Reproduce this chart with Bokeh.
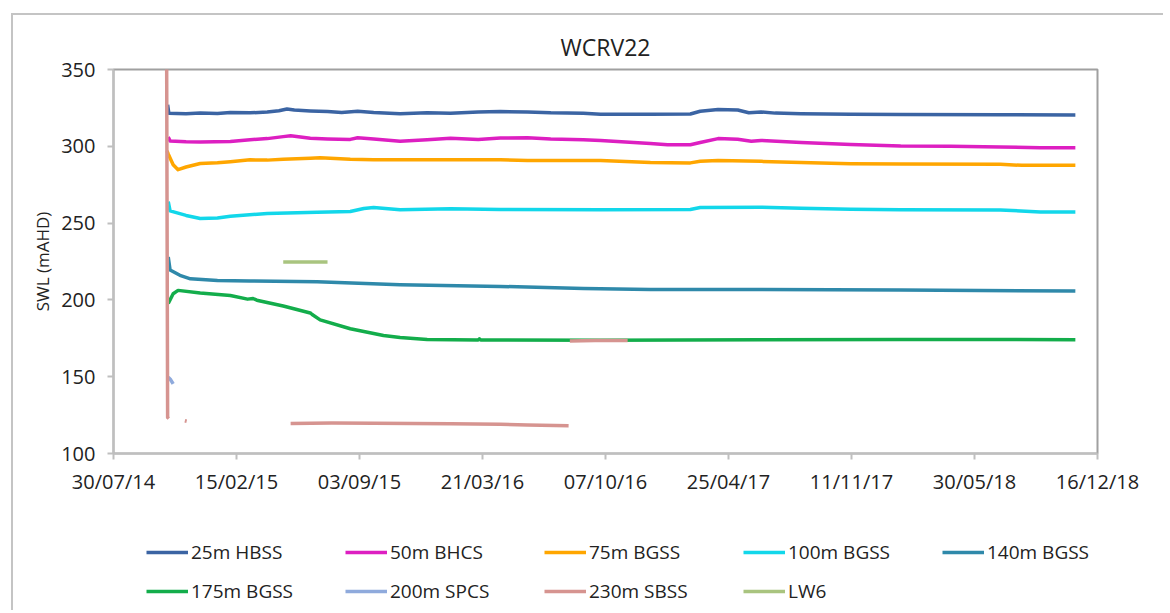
import numpy as np
import pandas as pd
from bokeh.plotting import figure
from bokeh.layouts import column
from bokeh.models import Range1d, FixedTicker, Legend, LegendItem
from bokeh.embed import file_html
from bokeh.resources import INLINE

ORIGIN = pd.Timestamp("2014-07-30")

title_text = "WCRV22"
y_label = "SWL (mAHD)"
tick_labels = ["30/07/14", "15/02/15", "03/09/15", "21/03/16", "07/10/16",
               "25/04/17", "11/11/17", "30/05/18", "16/12/18"]
y_ticks = [100, 150, 200, 250, 300, 350]

names = ["25m HBSS", "50m BHCS", "75m BGSS", "100m BGSS", "140m BGSS",
         "175m BGSS", "200m SPCS", "230m SBSS", "LW6"]
colors = ["#3b64a3", "#dd1fc1", "#ffa600", "#12d7ea", "#2f89aa",
          "#13ad4b", "#8faadc", "#d69490", "#a9c47f"]

hbss25_dates = ["2014-10-26", "2014-10-28", "2014-11-10", "2014-11-25", "2014-12-18",
                "2015-01-15", "2015-02-05", "2015-03-09", "2015-04-06", "2015-04-25",
                "2015-05-08", "2015-05-20", "2015-06-15", "2015-07-13", "2015-08-05",
                "2015-08-31", "2015-09-26", "2015-11-08", "2015-12-22", "2016-01-29",
                "2016-03-14", "2016-04-19", "2016-06-02", "2016-07-10", "2016-09-01",
                "2016-09-29", "2016-12-19", "2017-02-22", "2017-03-10", "2017-04-08",
                "2017-05-10", "2017-05-28", "2017-06-17", "2017-07-10", "2017-08-21",
                "2017-11-10", "2018-01-30", "2018-07-11", "2018-11-10"]
hbss25_vals = [327.0, 321.5, 321.3, 321.2, 321.6, 321.3, 322.0, 321.8, 322.3, 323.2,
               324.3, 323.6, 323.0, 322.6, 322.0, 322.8, 322.0, 321.2, 321.8, 321.5,
               322.3, 322.6, 322.4, 321.8, 321.5, 320.9, 320.9, 321.0, 322.8, 323.9,
               323.6, 321.8, 322.4, 321.6, 321.2, 320.9, 320.7, 320.6, 320.4]

bhcs50_dates = ["2014-10-27", "2014-10-30", "2014-11-25", "2014-12-18", "2015-02-05",
                "2015-03-09", "2015-04-06", "2015-05-02", "2015-05-14", "2015-06-15",
                "2015-07-13", "2015-08-19", "2015-08-31", "2015-09-26", "2015-11-08",
                "2015-12-22", "2016-01-29", "2016-03-14", "2016-04-19", "2016-06-02",
                "2016-07-10", "2016-09-01", "2016-09-29", "2016-12-19", "2017-01-16",
                "2017-02-22", "2017-03-10", "2017-04-08", "2017-05-10", "2017-06-01",
                "2017-06-17", "2017-08-21", "2017-11-10", "2018-01-30", "2018-04-21",
                "2018-07-11", "2018-09-14", "2018-11-10"]
bhcs50_vals = [306.0, 303.4, 302.9, 302.8, 303.2, 304.3, 305.0, 306.3, 306.8, 305.2,
               304.8, 304.5, 305.6, 304.8, 303.3, 304.2, 305.3, 304.5, 305.4, 305.6,
               304.8, 304.2, 303.8, 301.8, 301.0, 301.0, 302.5, 305.0, 304.6, 303.3,
               303.8, 302.4, 301.2, 300.2, 300.0, 299.6, 299.0, 299.0]

bgss75_dates = ["2014-10-25", "2014-10-27", "2014-11-04", "2014-11-12", "2014-11-25",
                "2014-12-18", "2015-01-15", "2015-02-05", "2015-03-09", "2015-04-06",
                "2015-05-02", "2015-06-15", "2015-07-01", "2015-08-19", "2015-09-26",
                "2015-11-08", "2016-01-29", "2016-04-19", "2016-06-02", "2016-09-29",
                "2016-12-19", "2017-02-22", "2017-03-10", "2017-04-08", "2017-06-17",
                "2017-08-21", "2017-11-10", "2018-01-30", "2018-07-11", "2018-08-15",
                "2018-11-10"]
bgss75_vals = [297.0, 295.0, 288.0, 284.8, 286.5, 288.8, 289.3, 290.0, 291.2, 291.0,
               291.6, 292.3, 292.6, 291.5, 291.3, 291.2, 291.2, 291.2, 290.8, 290.8,
               289.5, 289.2, 290.2, 290.8, 290.2, 289.4, 288.6, 288.4, 288.3, 287.6,
               287.6]

bgss100_dates = ["2014-10-27", "2014-10-30", "2014-11-25", "2014-12-18", "2015-01-15",
                 "2015-02-05", "2015-04-06", "2015-06-26", "2015-08-19", "2015-09-10",
                 "2015-09-26", "2015-11-08", "2016-01-29", "2016-04-19", "2016-09-29",
                 "2017-02-22", "2017-03-10", "2017-06-17", "2017-08-21", "2017-11-10",
                 "2018-01-30", "2018-07-11", "2018-09-14", "2018-11-10"]
bgss100_vals = [264.0, 258.0, 255.0, 253.0, 253.3, 254.5, 256.3, 257.1, 257.5, 259.5,
                260.2, 258.7, 259.3, 258.8, 258.7, 258.9, 260.2, 260.4, 259.6, 259.0,
                258.7, 258.5, 257.3, 257.3]

bgss140_dates = ["2014-10-27", "2014-10-30", "2014-11-15", "2014-12-02", "2015-01-15",
                 "2015-03-09", "2015-06-26", "2015-11-08", "2016-04-19", "2016-09-01",
                 "2016-12-19", "2017-06-17", "2018-01-30", "2018-11-10"]
bgss140_vals = [228.0, 219.5, 216.0, 213.7, 212.6, 212.3, 211.8, 209.8, 208.8, 207.4,
                206.8, 206.8, 206.4, 205.8]

bgss175_dates = ["2014-10-27", "2014-11-04", "2014-11-12", "2014-12-18", "2015-02-05",
                 "2015-03-05", "2015-03-14", "2015-03-20", "2015-05-02", "2015-06-15",
                 "2015-06-18", "2015-07-01", "2015-08-19", "2015-10-12", "2015-11-08",
                 "2015-12-22", "2016-03-14", "2016-03-16", "2016-03-18", "2016-09-29",
                 "2017-06-17", "2018-01-30", "2018-04-21", "2018-11-10"]
bgss175_vals = [197.6, 204.0, 206.2, 204.5, 202.9, 200.5, 200.9, 199.8, 196.0, 191.5,
                190.5, 187.0, 181.2, 176.8, 175.5, 174.2, 173.9, 174.6, 173.9, 173.8,
                174.0, 174.2, 174.3, 174.0]

spcs200_dates = ["2014-10-27", "2014-10-31", "2014-11-04"]
spcs200_vals = [149.7, 148.0, 145.3]

sbss230_dates = ["2014-10-24", "2014-10-26", "2014-10-28", None,
                 "2014-11-23", "2014-11-26", None,
                 "2015-05-14", "2015-07-20", "2015-09-26", "2016-01-29", "2016-04-19",
                 "2016-06-02", "2016-08-08", None,
                 "2016-08-10", "2016-09-20", "2016-11-12"]
sbss230_vals = [420.0, 123.5, 122.8, None,
                121.3, 121.0, None,
                119.6, 119.9, 119.7, 119.4, 119.1, 118.6, 118.1, None,
                173.3, 173.5, 173.5]

lw6_dates = ["2015-05-02", "2015-07-13"]
lw6_vals = [224.6, 224.6]

series_dates = [hbss25_dates, bhcs50_dates, bgss75_dates, bgss100_dates, bgss140_dates,
                bgss175_dates, spcs200_dates, sbss230_dates, lw6_dates]
series_vals = [hbss25_vals, bhcs50_vals, bgss75_vals, bgss100_vals, bgss140_vals,
               bgss175_vals, spcs200_vals, sbss230_vals, lw6_vals]


def to_days(dates):
    return [np.nan if d is None else float((pd.Timestamp(d) - ORIGIN).days) for d in dates]


def to_vals(vals):
    return [np.nan if v is None else v for v in vals]


tick_pos = [float((pd.to_datetime(t, format="%d/%m/%y") - ORIGIN).days) for t in tick_labels]

FONT = "Open Sans"
TXT = "#222222"
LW = 3.5

# ---- main chart ----
p = figure(width=1150, height=483, output_backend="svg", toolbar_location=None,
           x_range=Range1d(tick_pos[0], tick_pos[-1]), y_range=Range1d(y_ticks[0], y_ticks[-1]),
           min_border_left=100, min_border_right=66, min_border_top=54, min_border_bottom=45)

p.title.text = title_text
p.title.align = "center"
p.title.offset = -7
p.title.text_font = FONT
p.title.text_font_size = "23px"
p.title.text_font_style = "normal"
p.title.text_color = TXT
p.title.standoff = 13

p.xgrid.visible = False
p.ygrid.visible = False
p.outline_line_color = "#a0a0a0"
p.outline_line_width = 2

p.xaxis.ticker = FixedTicker(ticks=tick_pos)
p.xaxis.major_label_overrides = {tp: lab for tp, lab in zip(tick_pos, tick_labels)}
p.yaxis.ticker = FixedTicker(ticks=y_ticks)
p.yaxis.axis_label = y_label

for ax in (p.xaxis[0], p.yaxis[0]):
    ax.axis_line_color = "#bfbfbf"
    ax.axis_line_width = 2
    ax.major_tick_line_color = "#bfbfbf"
    ax.major_tick_line_width = 2
    ax.major_tick_out = 6
    ax.major_tick_in = 0
    ax.minor_tick_out = 0
    ax.minor_tick_in = 0
    ax.major_label_text_font = FONT
    ax.major_label_text_font_size = "20px"
    ax.major_label_text_color = TXT
    ax.axis_label_text_font = FONT
    ax.axis_label_text_font_size = "17px"
    ax.axis_label_text_font_style = "normal"
    ax.axis_label_text_color = TXT

p.xaxis.major_label_standoff = 8
p.yaxis.major_label_standoff = 12
p.yaxis.axis_label_standoff = 4

for col, ds, vs in zip(colors, series_dates, series_vals):
    p.line(to_days(ds), to_vals(vs), line_color=col, line_width=LW, line_join="round")

# ---- legend strip (keys only; their sample lines sit outside the visible range) ----
pl = figure(width=1150, height=112, output_backend="svg", toolbar_location=None,
            x_range=Range1d(0, 1), y_range=Range1d(0, 1),
            x_axis_location=None, y_axis_location=None,
            min_border_left=0, min_border_right=0, min_border_top=0, min_border_bottom=0)
pl.xgrid.visible = False
pl.ygrid.visible = False
pl.outline_line_color = None

items = []
for name, col in zip(names, colors):
    r = pl.line(x=[-10.0, -9.0], y=[-10.0, -9.0], line_color=col, line_width=LW)
    items.append(LegendItem(label=name, renderers=[r]))

legend = Legend(items=items, location=(33, 0), orientation="horizontal", ncols=5,
                glyph_width=42, glyph_height=20, label_standoff=3, label_width=154,
                label_height=39, spacing=0, padding=0, margin=0,
                border_line_color=None, background_fill_alpha=0,
                label_text_font=FONT, label_text_font_size="19px", label_text_color=TXT)
pl.add_layout(legend)

layout = column(p, pl)
layout.styles = {"margin-left": "11px", "margin-top": "13px",
                 "border-left": "2px solid #c4c4c4", "border-top": "2px solid #c4c4c4"}

open("out.html", "w").write(file_html(layout, INLINE))
